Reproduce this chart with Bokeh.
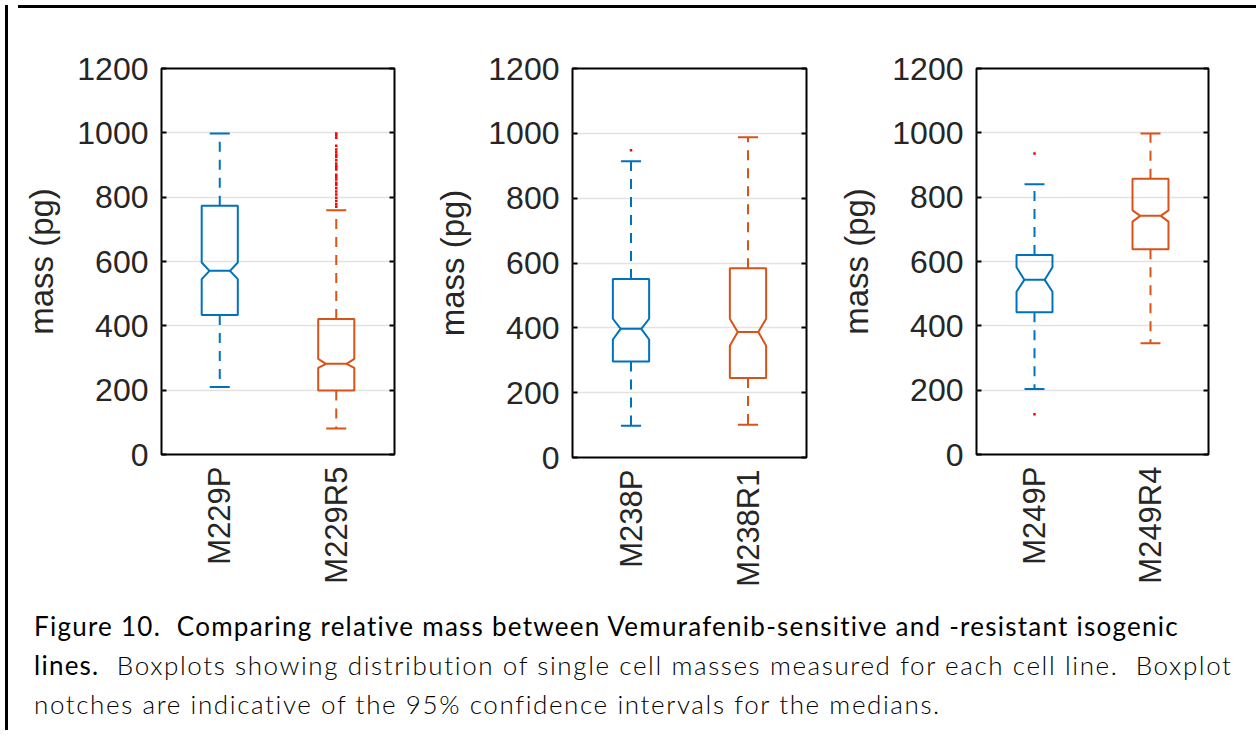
import math
from bokeh.plotting import figure
from bokeh.models import Div, FixedTicker, LinearAxis, Range1d, CustomLabelingPolicy
from bokeh.layouts import row, column
from bokeh.embed import file_html
from bokeh.resources import INLINE

# ---------------- data ----------------
names_a = ["M229P", "M229R5"]
names_b = ["M238P", "M238R1"]
names_c = ["M249P", "M249R4"]

lower_a = [210, 81]
q1_a = [434, 199]
notch_lo_a = [545, 269]
median_a = [571, 282]
notch_hi_a = [597, 297]
q3_a = [773, 421]
upper_a = [998, 759]
outliers_a = [[], [998, 992, 985, 960, 948, 940, 932, 925, 915, 905, 898, 892, 886,
                   870, 862, 855, 845, 838, 828, 818, 808, 798, 788, 778, 770]]

lower_b = [98, 101]
q1_b = [296, 245]
notch_lo_b = [364, 345]
median_b = [397, 387]
notch_hi_b = [428, 428]
q3_b = [551, 584]
upper_b = [914, 988]
outliers_b = [[948], []]

lower_c = [204, 346]
q1_c = [442, 638]
notch_lo_c = [506, 724]
median_c = [543, 742]
notch_hi_c = [582, 759]
q3_c = [620, 857]
upper_c = [840, 998]
outliers_c = [[936, 125], []]

y_ticks = [0, 200, 400, 600, 800, 1000, 1200]

colors = ["#0072BD", "#D95319"]
OUT_COLOR = "#FF0000"
TXT = "#262626"
FONT = "Liberation Sans"


def make_panel(names, lower, q1, nlo, med, nhi, q3, upper, outl,
               left, top, fw, fh, bottom, right):
    p = figure(frame_width=fw, frame_height=fh, min_border_left=left,
               min_border_top=top, min_border_bottom=bottom, min_border_right=right,
               x_range=Range1d(0.5, 2.5), y_range=Range1d(0, 1200),
               output_backend="svg", toolbar_location=None, background_fill_color="white")
    pos = [1, 2]
    bw = 0.155   # half box width
    nw = 0.088   # half notch width
    cw = 0.086   # half cap width
    xs, ys = [], []
    for x, a, b, c, d, e in zip(pos, q1, nlo, med, nhi, q3):
        xs.append([x - bw, x - bw, x - nw, x - bw, x - bw, x + bw, x + bw, x + nw, x + bw, x + bw])
        ys.append([a, b, c, d, e, e, d, c, b, a])
    p.patches(xs, ys, fill_color=None, line_color=colors, line_width=2)
    # median lines
    p.segment([x - nw for x in pos], med, [x + nw for x in pos], med, line_color=colors, line_width=2)
    # whiskers
    p.segment(pos, q3, pos, upper, line_color=colors, line_width=2, line_dash="10 8")
    p.segment(pos, q1, pos, lower, line_color=colors, line_width=2, line_dash="10 8")
    # caps
    p.segment([x - cw for x in pos], upper, [x + cw for x in pos], upper, line_color=colors, line_width=2)
    p.segment([x - cw for x in pos], lower, [x + cw for x in pos], lower, line_color=colors, line_width=2)
    # outliers
    ox, oy = [], []
    for x, vals in zip(pos, outl):
        ox += [x] * len(vals)
        oy += vals
    if ox:
        p.scatter(ox, oy, marker="square", size=2.5, fill_color=OUT_COLOR, line_color=None)

    p.outline_line_color = "black"
    p.outline_line_width = 2
    p.xgrid.grid_line_color = None
    p.ygrid.grid_line_color = "#e3e3e3"
    p.ygrid.grid_line_width = 1.5
    p.ygrid.ticker = FixedTicker(ticks=y_ticks)

    ya = p.yaxis[0]
    ya.ticker = FixedTicker(ticks=y_ticks)
    ya.axis_label = "mass (pg)"
    ya.axis_label_text_font = FONT
    ya.axis_label_text_font_size = "33px"
    ya.axis_label_text_font_style = "normal"
    ya.axis_label_text_color = TXT
    ya.axis_label_standoff = 14
    ya.major_label_text_font = FONT
    ya.major_label_text_font_size = "32px"
    ya.major_label_text_color = TXT
    ya.major_label_standoff = 13
    ya.major_tick_in = 5
    ya.major_tick_out = 0
    ya.minor_tick_line_color = None
    ya.axis_line_color = None
    ya.major_tick_line_color = "black"
    ya.major_tick_line_width = 2

    no_labels = CustomLabelingPolicy(code="""
        for (const i of Array.from(indices)) { indices.unset(i) }
        return indices
    """)
    ra = LinearAxis(ticker=FixedTicker(ticks=y_ticks), major_label_policy=no_labels,
                    major_tick_in=5, major_tick_out=0, minor_tick_line_color=None,
                    axis_line_color=None, major_tick_line_width=2, major_label_standoff=0)
    p.add_layout(ra, "right")

    xa = p.xaxis[0]
    xa.ticker = FixedTicker(ticks=pos)
    xa.major_label_overrides = {1: names[0], 2: names[1]}
    xa.major_label_orientation = math.pi / 2
    xa.major_label_text_font = FONT
    xa.major_label_text_font_size = "31px"
    xa.major_label_text_color = TXT
    xa.major_label_standoff = 12
    xa.major_tick_in = 0
    xa.major_tick_out = 0
    xa.minor_tick_line_color = None
    xa.axis_line_color = None
    return p


pa = make_panel(names_a, lower_a, q1_a, notch_lo_a, median_a, notch_hi_a, q3_a, upper_a, outliers_a,
                148, 52, 233, 386, 141, 20)
pb = make_panel(names_b, lower_b, q1_b, notch_lo_b, median_b, notch_hi_b, q3_b, upper_b, outliers_b,
                151, 55, 234, 389, 135, 20)
pc = make_panel(names_c, lower_c, q1_c, notch_lo_c, median_c, notch_hi_c, q3_c, upper_c, outliers_c,
                143, 52, 232, 386, 141, 40)

T = 'font-weight: 400; letter-spacing: 1.25px;'
B = 'font-weight: 300; letter-spacing: 1.6px;'
caption_html = (
    '<div style="font-family: Lato, sans-serif; font-size: 26px; line-height: 39px; '
    'color: #000; white-space: pre; padding: 10px 0 0 16px;">'
    f'<span style="{T}">Figure 10.  Comparing relative mass between Vemurafenib-sensitive and -resistant isogenic</span><br>'
    f'<span style="{T}">lines.</span><span style="{B}">  Boxplots showing distribution of single cell masses measured for each cell line.  Boxplot</span><br>'
    f'<span style="{B}">notches are indicative of the 95% confidence intervals for the medians.</span>'
    '</div>'
)
caption = Div(text=caption_html, width=1238, height=143)

top_bar = Div(text="", width=1238, height=3, styles={"background-color": "black"})
left_bar = Div(text="", width=3, height=725, styles={"background-color": "black"})

layout = row(left_bar, column(top_bar, row(pa, pb, pc), caption))

open("out.html", "w").write(file_html(layout, INLINE))
